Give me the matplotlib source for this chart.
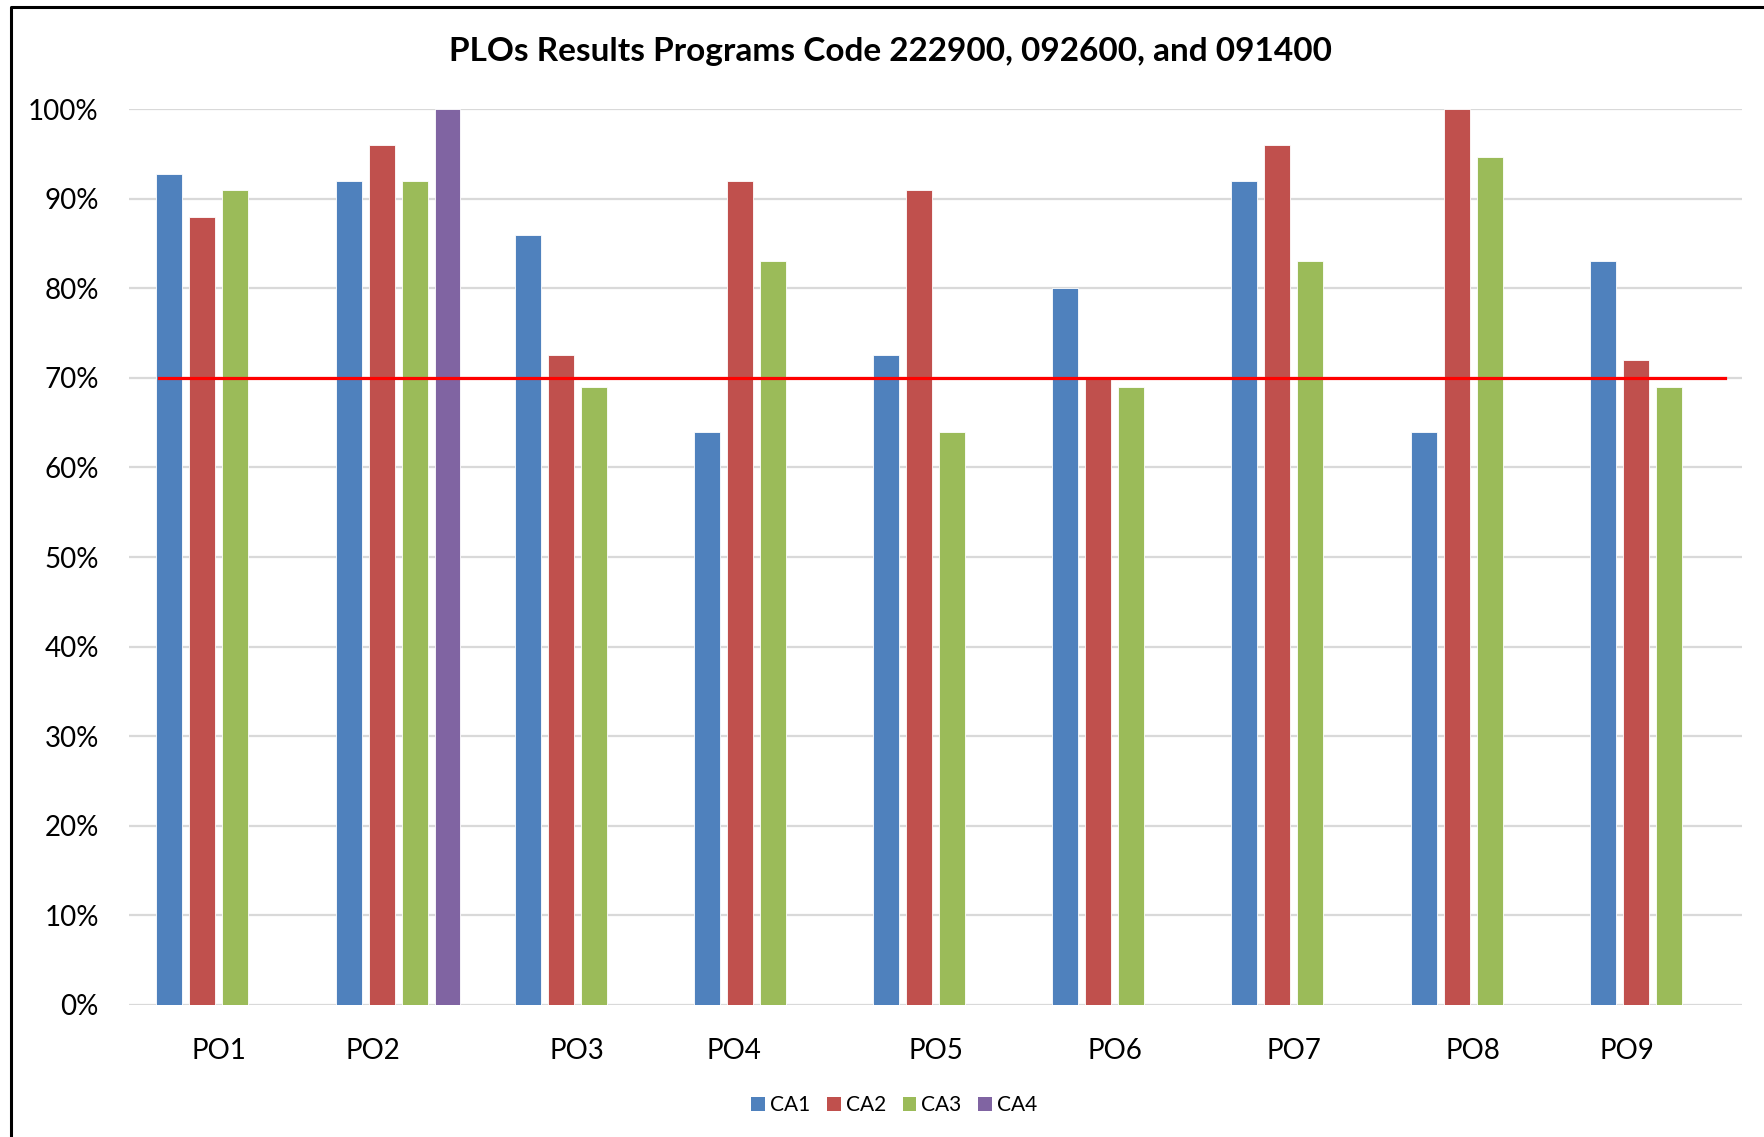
import matplotlib.pyplot as plt
import numpy as np
from matplotlib.lines import Line2D
from matplotlib.patches import Patch
from matplotlib.transforms import ScaledTranslation

plt.rcParams["font.family"] = ["Lato", "DejaVu Sans"]

categories = ["PO1", "PO2", "PO3", "PO4", "PO5", "PO6", "PO7", "PO8", "PO9"]
series_names = ["CA1", "CA2", "CA3", "CA4"]
ca1 = [92.7, 92.0, 85.9, 64.0, 72.6, 80.0, 92.0, 64.0, 83.0]
ca2 = [88.0, 96.0, 72.6, 92.0, 91.0, 70.0, 96.0, 100.0, 72.0]
ca3 = [91.0, 92.0, 69.0, 83.0, 64.0, 69.0, 83.0, 94.7, 69.0]
ca4 = [np.nan, 100.0, np.nan, np.nan, np.nan, np.nan, np.nan, np.nan, np.nan]
target = 70
yticks = list(range(0, 101, 10))

colors = ["#4F81BD", "#C0504D", "#9BBB59", "#8064A2"]
# the source labels are not all centred on their group (pixel shifts)
label_shift_px = [0, -25, 0, -22, 0, 0, 0, 0, -25]

fig = plt.figure(figsize=(17.64, 11.37), dpi=100)
ax = fig.add_axes([0.0733, 0.1161, 0.9141, 0.788])

x = np.arange(len(categories))
width = 0.145
pitch = 0.184
for i, (name, vals) in enumerate(zip(series_names, [ca1, ca2, ca3, ca4])):
    ax.bar(x + (i - 1.5) * pitch, vals, width, color=colors[i],
           edgecolor="white", linewidth=0.6, label=name, zorder=2)

# red target line, from first bar to end of last group
x0 = x[0] - 1.5 * pitch - width / 2 + 0.015
x1 = x[-1] + 1.5 * pitch + width / 2 + 0.06
ax.plot([x0, x1], [target, target], color="#FF0000", linewidth=2.3, zorder=3)

ax.set_xlim(-0.5, len(categories) - 0.5)
ax.set_ylim(0, 100)
ax.set_yticks(yticks)
ax.set_yticklabels([f"{t}%" for t in yticks])
ax.set_xticks(x)
ax.set_xticklabels(categories)
ax.yaxis.grid(True, color="#D9D9D9", linewidth=1.6, zorder=0)
ax.set_axisbelow(True)
for s in ax.spines.values():
    s.set_visible(False)
ax.tick_params(axis="both", length=0, labelsize=20, colors="black")
ax.tick_params(axis="y", pad=22)
ax.tick_params(axis="x", pad=24)
for lab, dx in zip(ax.get_xticklabels(), label_shift_px):
    lab.set_transform(lab.get_transform() + ScaledTranslation(dx / 100, 0, fig.dpi_scale_trans))

fig.text(0.505, 0.9545, "PLOs Results Programs Code 222900, 092600, and 091400",
         ha="center", va="center", fontsize=24, fontweight="bold")

handles = [Patch(facecolor=c, label=n) for c, n in zip(colors, series_names)]
fig.legend(handles=handles, loc="center", bbox_to_anchor=(0.507, 0.028), ncol=4,
           frameon=False, fontsize=15, handlelength=0.65, handleheight=0.7,
           handletextpad=0.25, columnspacing=0.8)

# outer chart border (only top and left edges visible in the crop)
fig.add_artist(Line2D([10.5 / 1764, 10.5 / 1764, 1.0], [0.0, 1 - 6.7 / 1137, 1 - 6.7 / 1137],
                      transform=fig.transFigure, color="black", linewidth=2.2))

fig.savefig("out.png", dpi=100)
